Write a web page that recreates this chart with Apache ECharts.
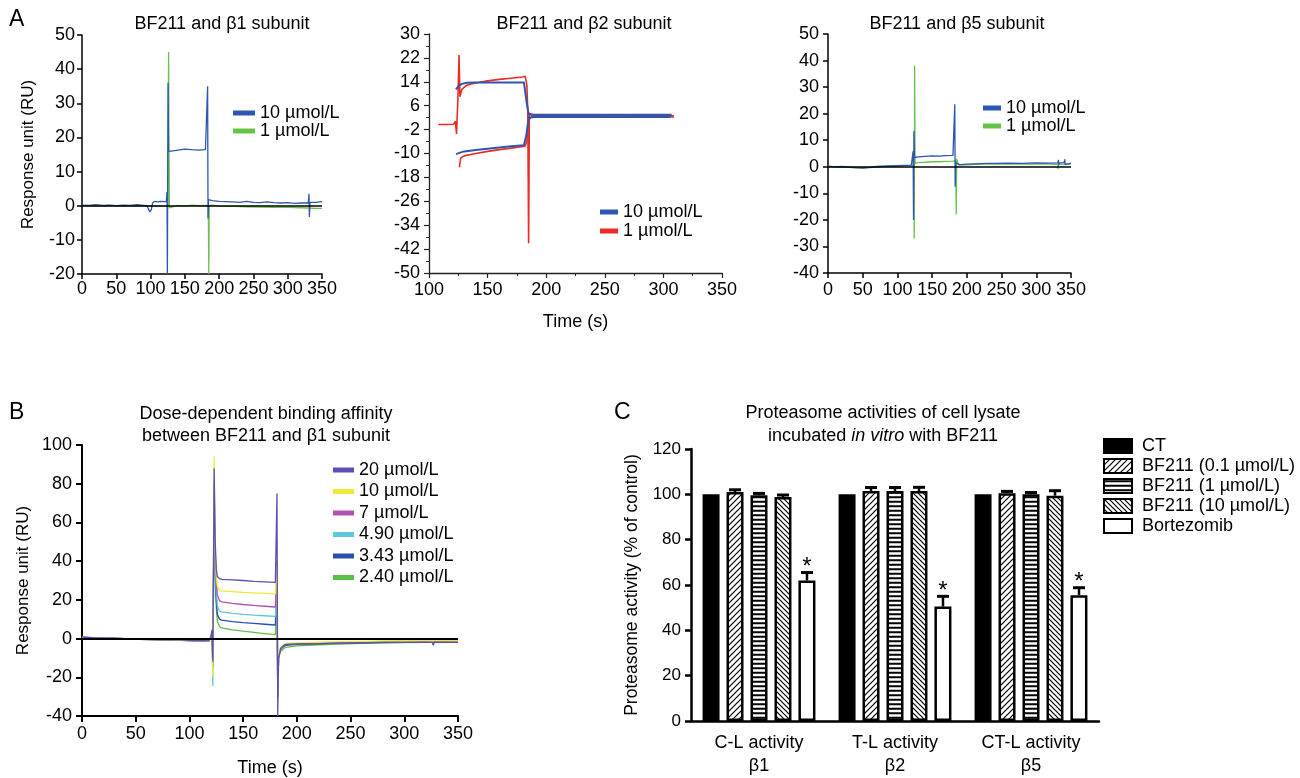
<!DOCTYPE html>
<html>
<head>
<meta charset="UTF-8">
<title>BF211 binding and proteasome activity</title>
<script src="https://cdn.jsdelivr.net/npm/echarts@6/dist/echarts.min.js"></script>
<style>html, body { margin: 0; padding: 0; background: #fff; }</style>
</head>
<body>
<div id="chart" style="width:1300px;height:778px;"></div>
<script type="text/javascript">
// ---- data: [time (s), response (RU)] ----
// A: BF211 and beta1 subunit
var a1Conc10 = [[0,0.2],[10,0.1],[20,0.3],[30,0.1],[40,0.2],[50,0.0],[60,0.2],[70,0.1],[80,0.3],[90,0.1],[95,0.0],[97,-1.0],[99,-1.8],[101,-1.2],[103,0.8],[106,1.3],[110,1.1],[115,1.3],[120,1.2],[123,1.3],[124,4.0],[124.5,-20],[125.5,36],[126.2,16],[127,15.6],[130,16.0],[140,16.3],[150,16.6],[160,16.4],[170,16.3],[180,16.4],[182.5,16.8],[183.2,35],[183.8,-3.8],[184.6,1.8],[186,1.6],[190,1.5],[200,1.3],[210,1.2],[220,1.1],[230,1.0],[240,1.3],[250,1.0],[260,0.9],[270,1.1],[280,0.9],[290,0.8],[300,0.9],[310,0.7],[320,0.8],[330,0.8],[331,3.5],[331.6,-3.3],[332.5,1.0],[340,1.0],[350,1.2]];
var a1Conc1 = [[0,0],[20,-0.1],[40,0.1],[60,-0.1],[80,0],[100,-0.1],[110,0],[120,-0.1],[125,0],[126.3,45],[126.9,15],[127.4,-0.6],[130,-0.3],[140,0.1],[150,-0.1],[160,0.2],[170,0],[180,0.1],[184.2,0],[184.9,-20],[185.5,0],[190,0.2],[200,-0.1],[220,-0.2],[240,-0.3],[260,-0.4],[280,-0.5],[300,-0.5],[320,-0.6],[340,-0.8],[350,-0.8]];
// A: BF211 and beta2 subunit (two traces per concentration)
var a2Conc10Up = [[123,11.5],[125,12.5],[128,13.3],[132,13.7],[140,13.8],[160,13.8],[181,13.8],[183,8],[185,3.2],[190,3.0],[220,3.0],[250,3.0],[280,3.0],[307,3.0]];
var a2Conc10Down = [[123,-10.2],[126,-9.8],[130,-9.3],[140,-8.8],[150,-8.4],[160,-8.0],[170,-7.6],[181,-7.2],[183,-4],[185,2.0],[190,2.2],[250,2.2],[306,2.2]];
var a2Conc1Up = [[108,-0.3],[115,-0.3],[121,-0.2],[122.5,0.8],[123.5,-3.5],[124.8,10],[125.6,23],[126.4,9],[128,11.5],[132,12.8],[136,13.3],[140,13.6],[150,14.3],[160,14.8],[170,15.2],[180,15.6],[182,15.9],[183.5,13],[184.3,4],[185,-40],[185.6,3.5],[188,2.6],[200,2.7],[230,2.6],[260,2.5],[290,2.6],[309,2.6]];
var a2Conc1Down = [[126,-14.6],[127,-11.5],[130,-10.8],[140,-10],[150,-9.3],[160,-8.7],[170,-8.2],[182,-7.6],[183.5,-6],[185,1],[187,2.2],[200,2.2],[250,2.2],[309,2.2]];
// A: BF211 and beta5 subunit
var a3Conc10 = [[0,0.2],[10,0],[20,0.1],[30,-0.1],[40,-0.3],[50,-0.4],[60,-0.2],[70,0.1],[80,0.2],[90,0.3],[100,0.4],[110,0.5],[120,0.6],[122,1],[122.6,5.8],[123.2,-20],[123.8,13.5],[124.5,3.5],[130,3.7],[140,3.9],[150,4.1],[160,4.0],[170,4.2],[180,4.3],[182,4.5],[182.6,23.5],[183.2,-7.5],[184,1.5],[186,0.8],[190,0.8],[200,1.0],[210,1.1],[220,1.2],[230,1.3],[240,1.3],[260,1.4],[280,1.3],[300,1.5],[320,1.4],[331,1.5],[332,2.6],[332.5,0.6],[333,1.5],[340,1.6],[341,2.8],[341.5,0.8],[342,1.5],[350,1.4]];
var a3Conc1 = [[0,0.1],[20,0],[40,-0.4],[50,-0.6],[60,-0.3],[80,0.1],[100,0.3],[120,0.5],[123.5,0.6],[124.2,-27],[124.8,38],[125.4,1.3],[130,1.6],[140,1.7],[150,1.9],[160,1.9],[170,2.0],[180,2.1],[184,2.2],[184.7,-18],[185.3,3],[186.5,2.5],[188,0.6],[200,0.7],[220,1.0],[240,1.1],[260,1.0],[280,1.1],[300,1.0],[320,1.0],[331,0.9],[331.5,-0.8],[332,1],[350,1.0]];
// B: dose-dependent binding
var b20 = [[0,0.8],[10,0.5],[20,0.3],[30,0.2],[40,-0.1],[50,-0.2],[60,-0.4],[70,-0.5],[80,-0.6],[90,-0.7],[100,-0.9],[110,-1.0],[118,-1.2],[120,1],[121,4.5],[121.8,-12],[123,88],[124,50],[125,36],[126,32],[128,31],[130,30.6],[140,30.3],[150,30.0],[160,29.6],[170,29.3],[180,29.0],[181,29.2],[181.5,75],[182.2,-40],[183,-10],[185,-5],[188,-3.5],[190,-3],[200,-2.8],[220,-2.6],[240,-2.4],[260,-2.2],[280,-2.0],[300,-2.0],[320,-1.8],[326,-2.0],[327,-3.5],[328,-1.8],[340,-2.0],[350,-2.0]];
var b10 = [[0,0.5],[20,0.2],[40,-0.2],[60,-0.4],[80,-0.6],[100,-0.9],[118,-1.3],[120,0.5],[121,3],[121.8,-20],[123,94],[124,48],[125,32],[126,27],[128,25],[130,24.6],[140,24.3],[150,23.9],[160,23.6],[170,23.3],[180,23.0],[181,23.5],[181.5,40],[182.2,-30],[183,-8],[185,-4.5],[188,-3],[190,-2.5],[200,-2.2],[220,-1.9],[240,-1.6],[260,-1.4],[280,-1.2],[300,-1.0],[320,-1.2],[340,-1.0],[350,-1.0]];
var b7 = [[0,0.6],[20,0.2],[40,-0.1],[60,-0.5],[80,-0.7],[100,-1.0],[118,-1.4],[120,0.5],[121,3],[121.8,-15],[123,80],[124,44],[125,30],[126,22.5],[128,19.6],[130,19.0],[140,18.2],[150,17.6],[160,17.1],[170,16.7],[180,16.3],[181,17],[181.5,40],[182.2,-30],[183,-9],[185,-5],[188,-3.5],[190,-3],[200,-2.7],[220,-2.4],[240,-2.2],[260,-2.0],[280,-1.9],[300,-1.8],[320,-1.7],[340,-1.7],[350,-1.8]];
var b490 = [[0,0.5],[20,0.3],[40,-0.2],[60,-0.4],[80,-0.7],[100,-0.9],[118,-1.2],[120,0.5],[121,3],[121.8,-24.5],[123,75],[124,40],[125,25],[126,17],[128,14.3],[130,13.8],[140,13.0],[150,12.5],[160,12.1],[170,11.8],[180,11.5],[181,12],[181.5,35],[182.2,-30],[183,-9],[185,-5],[188,-3.5],[190,-3],[200,-2.6],[220,-2.2],[240,-2.0],[260,-1.8],[280,-1.6],[300,-1.5],[320,-1.3],[340,-1.4],[350,-1.5]];
var b343 = [[0,0.6],[20,0.3],[40,-0.1],[60,-0.4],[80,-0.7],[100,-1.0],[118,-1.3],[120,0.5],[121,3],[121.8,-15],[123,70],[124,36],[125,20],[126,12.5],[128,10],[130,9.5],[140,8.8],[150,8.2],[160,7.8],[170,7.4],[180,7.0],[181,7.5],[181.5,35],[182.2,-30],[183,-9],[185,-5.5],[188,-4],[190,-3.5],[200,-3],[220,-2.7],[240,-2.4],[260,-2.2],[280,-2.0],[300,-1.9],[320,-1.8],[340,-1.8],[350,-1.9]];
var b240 = [[0,0.4],[20,0.2],[40,-0.2],[60,-0.5],[80,-0.8],[100,-1.1],[118,-1.4],[120,0.5],[121,3],[121.8,-12],[123,65],[124,32],[125,16],[126,9],[128,6.2],[130,5.5],[140,4.5],[150,3.8],[160,3.2],[170,2.6],[180,2.0],[181,2.5],[181.5,30],[182.2,-30],[183,-10],[185,-6.5],[188,-5],[190,-4.5],[200,-3.8],[220,-3.2],[240,-2.8],[260,-2.5],[280,-2.3],[300,-2.1],[320,-2.0],[340,-2.0],[350,-2.0]];
// C: proteasome activity (% of control), mean and error
var activityNames = ['C-L activity\nβ1', 'T-L activity\nβ2', 'CT-L activity\nβ5'];
var ctMean = [100, 100, 100];
var bf01Mean = [101, 101.5, 100.5];
var bf01Err = [1, 1.5, 0.8];
var bf1Mean = [99.6, 101.5, 100];
var bf1Err = [0.8, 1.5, 0.8];
var bf10Mean = [98.8, 101.5, 99.4];
var bf10Err = [0.9, 1.6, 2.2];
var bortMean = [62, 50.5, 55.5];
var bortErr = [3.5, 4.5, 3.3];

var FONT = 'Liberation Sans';
var BLUE = '#2c56b0', GREEN = '#68c24a', RED = '#ec2b25';
var B_COLORS = ['#5b50b5', '#f0ea36', '#b24fb2', '#5ec8dc', '#2a4db0', '#5cbf45'];
var FS = 18; // most labels

var myChart = echarts.init(document.getElementById('chart'));

// hatch fills for the BF211 bars
function hatch(kind) {
    var s = kind === 'h' ? 9 : (kind === 'f' ? 6 : 5);
    var c = document.createElement('canvas');
    c.width = s; c.height = s;
    var g = c.getContext('2d');
    g.fillStyle = '#fff';
    g.fillRect(0, 0, s, s);
    g.strokeStyle = '#000';
    g.lineWidth = kind === 'h' ? 1.8 : 1.2;
    g.beginPath();
    if (kind === 'h') {
        g.moveTo(0, 2.25); g.lineTo(s, 2.25);
        g.moveTo(0, 6.75); g.lineTo(s, 6.75);
    } else if (kind === 'f') { // "/"
        g.moveTo(-1, s + 1); g.lineTo(s + 1, -1);
        g.moveTo(-1, 1); g.lineTo(1, -1);
        g.moveTo(s - 1, s + 1); g.lineTo(s + 1, s - 1);
    } else { // "\"
        g.moveTo(-1, -1); g.lineTo(s + 1, s + 1);
        g.moveTo(-1, s - 1); g.lineTo(1, s + 1);
        g.moveTo(s - 1, -1); g.lineTo(s + 1, 1);
    }
    g.stroke();
    return { image: c, repeat: 'repeat' };
}

function valueAxis(grid, min, max, interval, opts) {
    var ax = {
        type: 'value', gridIndex: grid, min: min, max: max, interval: interval,
        axisLine: { show: true, onZero: false, lineStyle: { color: '#000', width: 1.5 } },
        axisTick: { show: true, length: 5, lineStyle: { color: '#000', width: 1.5 } },
        axisLabel: { color: '#000', fontSize: FS, margin: 7 },
        splitLine: { show: false },
        nameTextStyle: { color: '#000', fontSize: 17 }
    };
    return Object.assign(ax, opts || {});
}

function curve(name, data, idx, color, width) {
    return {
        name: name, type: 'line', xAxisIndex: idx, yAxisIndex: idx, data: data,
        showSymbol: false, symbol: 'none', silent: true,
        lineStyle: { color: color, width: width || 1.3 }, itemStyle: { color: color }
    };
}

var zeroLine = {
    silent: true, symbol: 'none', label: { show: false },
    lineStyle: { color: '#000', width: 1.5, type: 'solid' }, data: [{ yAxis: 0 }]
};

function lineLegend(left, top, gap, w, items) {
    return {
        left: left, top: top, orient: 'vertical', icon: 'rect', itemWidth: w, itemHeight: 5,
        itemGap: gap, selectedMode: false, padding: 0,
        textStyle: { color: '#000', fontSize: FS },
        data: items.map(function (it) { return { name: it[0], itemStyle: { color: it[1], borderWidth: 0 } }; })
    };
}

function barSeries(name, values, fill) {
    return {
        name: name, type: 'bar', xAxisIndex: 4, yAxisIndex: 4, data: values,
        barWidth: 17, barGap: '41%', silent: true,
        itemStyle: { color: fill, borderColor: '#000', borderWidth: 2.5 }
    };
}

// error bars (upper half) drawn next to each bar slot
function errSeries(values, errs, slot, star) {
    return {
        type: 'custom', xAxisIndex: 4, yAxisIndex: 4, z: 3, silent: true,
        data: values.map(function (v, i) { return [i, v, errs[i]]; }),
        renderItem: function (params, api) {
            var base = api.coord([api.value(0), api.value(1)]);
            var tip = api.coord([api.value(0), api.value(1) + api.value(2)]);
            var x = base[0] + (slot - 2) * 24;
            var kids = [
                { type: 'line', shape: { x1: x, y1: base[1], x2: x, y2: tip[1] }, style: { stroke: '#000', lineWidth: 2.5 } },
                { type: 'line', shape: { x1: x - 6, y1: tip[1], x2: x + 6, y2: tip[1] }, style: { stroke: '#000', lineWidth: 3 } }
            ];
            if (star) {
                kids.push({ type: 'text', style: { text: '*', x: x, y: tip[1] - 5, align: 'center', verticalAlign: 'middle', font: '24px ' + FONT, fill: '#000' } });
            }
            return { type: 'group', children: kids };
        }
    };
}

var plainTitle = { fontSize: FS, fontWeight: 'normal', color: '#000' };

var option = {
    animation: false,
    textStyle: { fontFamily: FONT },
    title: [
        { text: 'A', left: 9, top: 8, padding: 0, textStyle: { fontSize: 23, fontWeight: 'normal', color: '#000' } },
        { text: 'B', left: 9, top: 401, padding: 0, textStyle: { fontSize: 23, fontWeight: 'normal', color: '#000' } },
        { text: 'C', left: 614, top: 401, padding: 0, textStyle: { fontSize: 23, fontWeight: 'normal', color: '#000' } },
        { text: 'BF211 and β1 subunit', left: 222, top: 15, padding: 0, textAlign: 'center', textStyle: plainTitle },
        { text: 'BF211 and β2 subunit', left: 584, top: 15, padding: 0, textAlign: 'center', textStyle: plainTitle },
        { text: 'BF211 and β5 subunit', left: 957, top: 15, padding: 0, textAlign: 'center', textStyle: plainTitle },
        { text: 'Dose-dependent binding affinity\nbetween BF211 and β1 subunit', left: 266, top: 403, padding: 0, textAlign: 'center',
          textStyle: { fontSize: FS, fontWeight: 'normal', color: '#000', lineHeight: 22 } },
        { text: 'Proteasome activities of cell lysate', left: 883, top: 404, padding: 0, textAlign: 'center', textStyle: plainTitle },
        { text: 'incubated {i|in vitro} with BF211', left: 883, top: 427, padding: 0, textAlign: 'center',
          textStyle: { fontSize: FS, fontWeight: 'normal', color: '#000', rich: { i: { fontSize: FS, fontStyle: 'italic', color: '#000' } } } }
    ],
    legend: [
        lineLegend(233, 104, 0, 22, [['10 µmol/L', BLUE], ['1 µmol/L', GREEN]]),
        lineLegend(600, 203, 1, 18, [['10 µmol/L', BLUE], ['1 µmol/L', RED]]),
        lineLegend(983, 99, 0, 18, [['10 µmol/L', BLUE], ['1 µmol/L', GREEN]]),
        lineLegend(333, 461, 3.5, 21, [['20 µmol/L', B_COLORS[0]], ['10 µmol/L', B_COLORS[1]], ['7 µmol/L', B_COLORS[2]],
            ['4.90 µmol/L', B_COLORS[3]], ['3.43 µmol/L', B_COLORS[4]], ['2.40 µmol/L', B_COLORS[5]]]),
        {
            left: 1103, top: 437, orient: 'vertical', icon: 'rect', itemWidth: 28, itemHeight: 14, itemGap: 2,
            selectedMode: false, padding: 0,
            textStyle: { color: '#000', fontSize: FS, padding: [0, 0, 0, 5] },
            data: ['CT', 'BF211 (0.1 µmol/L)', 'BF211 (1 µmol/L)', 'BF211 (10 µmol/L)', 'Bortezomib']
        }
    ],
    grid: [
        { left: 82, top: 35, width: 240, height: 239 },
        { left: 429, top: 34, width: 293, height: 239 },
        { left: 828, top: 34, width: 243, height: 239 },
        { left: 82, top: 445, width: 376, height: 276 },
        { left: 691, top: 449, width: 408, height: 273 }
    ],
    xAxis: [
        valueAxis(0, 0, 350, 50, { axisLabel: { color: '#000', fontSize: FS, margin: 6 } }),
        valueAxis(1, 100, 350, 50, {
            name: 'Time (s)', nameLocation: 'middle', nameGap: 40, nameTextStyle: { color: '#000', fontSize: FS },
            axisLine: { show: true, onZero: false, lineStyle: { color: '#222', width: 1.3 } },
            axisTick: { show: true, length: 5, lineStyle: { color: '#222', width: 1.2 } },
            minorTick: { show: true, splitNumber: 2, length: 3, lineStyle: { color: '#222', width: 1 } },
            axisLabel: { color: '#000', fontSize: FS, margin: 8 }
        }),
        valueAxis(2, 0, 350, 50, { axisLabel: { color: '#000', fontSize: FS, margin: 8 } }),
        valueAxis(3, 0, 350, 50, {
            name: 'Time (s)', nameLocation: 'middle', nameGap: 43, nameTextStyle: { color: '#000', fontSize: FS },
            axisLine: { show: true, onZero: false, lineStyle: { color: '#000', width: 2 } },
            axisTick: { show: true, length: 6, lineStyle: { color: '#000', width: 2 } },
            axisLabel: { color: '#000', fontSize: FS, margin: 9 }
        }),
        {
            type: 'category', gridIndex: 4, data: activityNames,
            axisLine: { show: true, lineStyle: { color: '#000', width: 2.5 } },
            axisTick: { show: false },
            axisLabel: { color: '#000', fontSize: FS, lineHeight: 23, margin: 11 }
        }
    ],
    yAxis: [
        valueAxis(0, -20, 50, 10, { name: 'Response unit (RU)', nameLocation: 'middle', nameGap: 45 }),
        valueAxis(1, -50, 30, 8, {
            axisLine: { show: true, onZero: false, lineStyle: { color: '#222', width: 1.3 } },
            axisTick: { show: true, length: 5, lineStyle: { color: '#222', width: 1.2 } },
            minorTick: { show: true, splitNumber: 2, length: 3, lineStyle: { color: '#222', width: 1 } },
            axisLabel: { color: '#000', fontSize: FS, margin: 9 }
        }),
        valueAxis(2, -40, 50, 10, { axisLabel: { color: '#000', fontSize: FS, margin: 9 } }),
        valueAxis(3, -40, 100, 20, {
            name: 'Response unit (RU)', nameLocation: 'middle', nameGap: 50,
            axisLine: { show: true, onZero: false, lineStyle: { color: '#000', width: 2 } },
            axisTick: { show: true, length: 6, lineStyle: { color: '#000', width: 2 } },
            axisLabel: { color: '#000', fontSize: FS, margin: 10 }
        }),
        valueAxis(4, 0, 120, 20, {
            name: 'Proteasome activity (% of control)', nameLocation: 'middle', nameGap: 50,
            nameTextStyle: { color: '#000', fontSize: 17.5 },
            axisLine: { show: true, onZero: false, lineStyle: { color: '#000', width: 2.5 } },
            axisTick: { show: true, length: 6, lineStyle: { color: '#000', width: 2.5 } },
            axisLabel: { color: '#000', fontSize: 17, margin: 10 }
        })
    ],
    series: [
        // A, beta1
        Object.assign(curve('1 µmol/L', a1Conc1, 0, GREEN), { markLine: zeroLine }),
        curve('10 µmol/L', a1Conc10, 0, BLUE),
        // A, beta2
        curve('1 µmol/L', a2Conc1Up, 1, RED, 1.6),
        curve('1 µmol/L', a2Conc1Down, 1, RED, 1.6),
        curve('10 µmol/L', a2Conc10Up, 1, BLUE, 2),
        curve('10 µmol/L', a2Conc10Down, 1, BLUE, 2),
        // A, beta5
        Object.assign(curve('1 µmol/L', a3Conc1, 2, GREEN), { markLine: zeroLine }),
        curve('10 µmol/L', a3Conc10, 2, BLUE),
        // B
        Object.assign(curve('2.40 µmol/L', b240, 3, B_COLORS[5]), { markLine: Object.assign({}, zeroLine, { lineStyle: { color: '#000', width: 2, type: 'solid' } }) }),
        curve('3.43 µmol/L', b343, 3, B_COLORS[4]),
        curve('4.90 µmol/L', b490, 3, B_COLORS[3]),
        curve('7 µmol/L', b7, 3, B_COLORS[2]),
        curve('10 µmol/L', b10, 3, B_COLORS[1]),
        curve('20 µmol/L', b20, 3, B_COLORS[0]),
        // C
        barSeries('CT', ctMean, '#000'),
        barSeries('BF211 (0.1 µmol/L)', bf01Mean, hatch('f')),
        barSeries('BF211 (1 µmol/L)', bf1Mean, hatch('h')),
        barSeries('BF211 (10 µmol/L)', bf10Mean, hatch('b')),
        barSeries('Bortezomib', bortMean, '#fff'),
        errSeries(bf01Mean, bf01Err, 1, false),
        errSeries(bf1Mean, bf1Err, 2, false),
        errSeries(bf10Mean, bf10Err, 3, false),
        errSeries(bortMean, bortErr, 4, true)
    ]
};

myChart.setOption(option);
</script>
</body>
</html>
